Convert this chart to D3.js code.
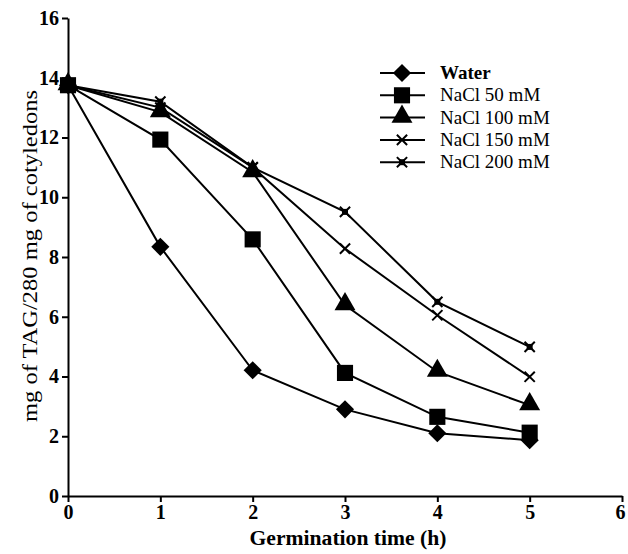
<!DOCTYPE html>
<html>
<head>
<meta charset="utf-8">
<script src="https://cdn.jsdelivr.net/npm/d3@7"></script>
<style>
  body { margin: 0; background: #fff; }
  text { font-family: "Liberation Serif", "Times New Roman", serif; fill: #000; }
  .axis path, .axis line { stroke: #000; stroke-width: 2; }
  .axis text { font-size: 20px; font-weight: bold; font-family: "Liberation Serif", serif; }
</style>
</head>
<body>
<div id="root"></div>
<script>
"use strict";

// Data
const hours = [0, 1, 2, 3, 4, 5];
const water = [13.75, 8.34, 4.21, 2.9, 2.1, 1.87];
const nacl50 = [13.75, 11.93, 8.59, 4.12, 2.65, 2.12];
const nacl100 = [13.75, 12.85, 10.84, 6.39, 4.16, 3.04];
const nacl150 = [13.75, 13.0, 11.0, 8.28, 6.05, 3.99];
const nacl200 = [13.75, 13.2, 11.0, 9.51, 6.5, 4.99];
const seriesNames = ["Water", "NaCl 50 mM", "NaCl 100 mM", "NaCl 150 mM", "NaCl 200 mM"];
const xTicks = [0, 1, 2, 3, 4, 5, 6];
const yTicks = [0, 2, 4, 6, 8, 10, 12, 14, 16];

const width = 628;
const height = 554;
const margin = { top: 18, right: 6, bottom: 58, left: 68 };
const drawWidth = width - margin.left - margin.right;
const drawHeight = height - margin.top - margin.bottom;

const series = [water, nacl50, nacl100, nacl150, nacl200].map((vals, i) => ({
    name: seriesNames[i],
    marker: ["diamond", "square", "triangle", "x", "star"][i],
    values: vals.map((v, j) => ({ x: hours[j], y: v }))
}));

const svg = d3.select('#root').append('svg')
    .attr('width', width)
    .attr('height', height);

const chartG = svg.append('g')
    .attr('transform', `translate(${margin.left},${margin.top})`);

const xScale = d3.scaleLinear().domain([0, 6]).range([0, drawWidth]);
const yScale = d3.scaleLinear().domain([0, 16]).range([drawHeight, 0]);

const xAxisG = chartG.append('g')
    .attr('class', 'axis')
    .attr('transform', `translate(0,${drawHeight})`)
    .call(d3.axisBottom(xScale).tickValues(xTicks).tickFormat(d3.format('d'))
        .tickSize(6).tickSizeOuter(0).tickPadding(3));
// keep the last label inside the page
xAxisG.selectAll('.tick text').filter(d => d === 6).attr('dx', '-2');

chartG.append('g')
    .attr('class', 'axis')
    .call(d3.axisLeft(yScale).tickValues(yTicks).tickFormat(d3.format('d'))
        .tickSize(6).tickSizeOuter(0).tickPadding(3));

svg.selectAll('.axis .domain').attr('stroke-width', 2.5);

// axis titles
svg.append('text')
    .attr('x', 348)
    .attr('y', 545)
    .attr('text-anchor', 'middle')
    .attr('textLength', 197)
    .attr('lengthAdjust', 'spacingAndGlyphs')
    .style('font-size', '20px')
    .style('font-weight', 'bold')
    .text('Germination time (h)');

svg.append('text')
    .attr('transform', `translate(37,256) rotate(-90)`)
    .attr('text-anchor', 'middle')
    .attr('textLength', 332)
    .attr('lengthAdjust', 'spacingAndGlyphs')
    .style('font-size', '22px')
    .text('mg of TAG/280 mg of cotyledons');

// marker drawing
function drawMarker(sel, type) {
    if (type === 'diamond') {
        sel.append('path').attr('d', d3.symbol(d3.symbolDiamond2, 210)());
    } else if (type === 'square') {
        sel.append('path').attr('d', d3.symbol(d3.symbolSquare, 260)());
    } else if (type === 'triangle') {
        sel.append('path').attr('d', d3.symbol(d3.symbolTriangle, 190)()).attr('transform', 'translate(0,-1)');
    } else if (type === 'x') {
        sel.append('path').attr('d', d3.symbol(d3.symbolX, 70)())
            .attr('fill', 'none').attr('stroke', '#000').attr('stroke-width', 2);
    } else {
        sel.append('path').attr('d', d3.symbol(d3.symbolX, 70)())
            .attr('fill', 'none').attr('stroke', '#000').attr('stroke-width', 2);
        sel.append('rect').attr('x', -3).attr('y', -3).attr('width', 6).attr('height', 6);
    }
}

const line = d3.line().x(d => xScale(d.x)).y(d => yScale(d.y));

series.forEach(s => {
    chartG.append('path')
        .datum(s.values)
        .attr('fill', 'none')
        .attr('stroke', '#000')
        .attr('stroke-width', 2)
        .attr('d', line);
});

series.forEach(s => {
    s.values.forEach(d => {
        const g = chartG.append('g')
            .attr('transform', `translate(${xScale(d.x)},${yScale(d.y)})`)
            .attr('fill', '#000');
        drawMarker(g, s.marker);
    });
});

// legend
const legend = svg.append('g').attr('transform', 'translate(380,73)');
series.forEach((s, i) => {
    const row = legend.append('g').attr('transform', `translate(0,${i * 22.3})`);
    row.append('line').attr('x1', 0).attr('x2', 45).attr('y1', 0).attr('y2', 0)
        .attr('stroke', '#000').attr('stroke-width', 2);
    const m = row.append('g').attr('transform', 'translate(22,0)').attr('fill', '#000');
    drawMarker(m, s.marker);
    row.append('text')
        .attr('x', 60)
        .attr('y', 6)
        .style('font-size', '19px')
        .style('font-weight', i === 0 ? 'bold' : 'normal')
        .text(s.name);
});
</script>
</body>
</html>
